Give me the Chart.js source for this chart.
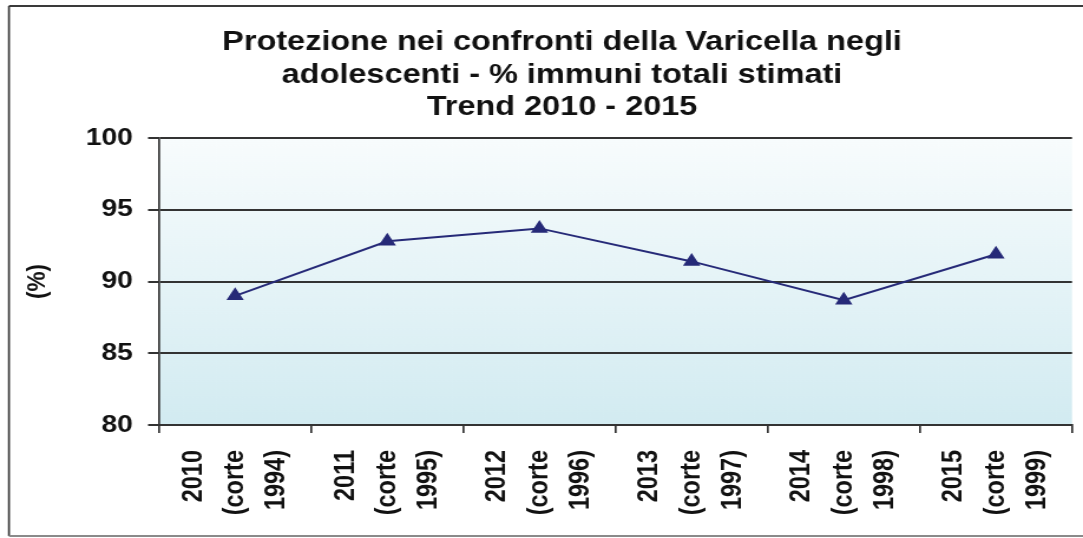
<!DOCTYPE html>
<html>
<head>
<meta charset="utf-8">
<script src="https://cdn.jsdelivr.net/npm/chart.js@4.4.0/dist/chart.umd.min.js"></script>
<style>
  html, body { margin: 0; padding: 0; background: #fff; overflow: hidden; }
</style>
</head>
<body>
<!-- the original picture is a bit wider than its text, so the canvas is stretched sideways -->
<canvas id="chart" width="918" height="538" style="width:1083px;height:538px;display:block"></canvas>
<script>
const years = ["2010", "2011", "2012", "2013", "2014", "2015"];
const cohorts = ["1994", "1995", "1996", "1997", "1998", "1999"];
const immuni = [89.0, 92.8, 93.7, 91.4, 88.7, 91.9];
const yTicks = [80, 85, 90, 95, 100];
const titleLines = [
    "Protezione nei confronti della Varicella negli",
    "adolescenti - % immuni totali stimati",
    "Trend 2010 - 2015"
];
const yTitle = "(%)";

const labels = years.map((y, i) => [y, "(corte", cohorts[i] + ")"]);
const FONT = "'Liberation Sans', Arial, sans-serif";

// sfumatura bianco -> azzurro nell'area del grafico
const bgPlugin = {
    id: "bg",
    beforeDraw(chart) {
        const { ctx, chartArea: a } = chart;
        const g = ctx.createLinearGradient(0, a.top, 0, a.bottom);
        g.addColorStop(0, "#f8fcfd");
        g.addColorStop(1, "#d2ebf1");
        ctx.save();
        ctx.fillStyle = g;
        ctx.fillRect(a.left, a.top, a.right - a.left, a.bottom - a.top);
        ctx.restore();
    }
};

// cornice esterna (il lato destro è fuori dall'immagine)
const framePlugin = {
    id: "frame",
    afterDraw(chart) {
        const ctx = chart.ctx;
        ctx.save();
        ctx.strokeStyle = "#3a3a3a";
        ctx.lineWidth = 2;
        ctx.beginPath();
        ctx.moveTo(7.6, 6);
        ctx.lineTo(chart.width, 6);
        ctx.stroke();
        ctx.lineWidth = 1.7;
        ctx.beginPath();
        ctx.moveTo(7.6, 6);
        ctx.lineTo(7.6, 536);
        ctx.stroke();
        ctx.strokeStyle = "#8a8a8a";
        ctx.lineWidth = 2;
        ctx.beginPath();
        ctx.moveTo(7.6, 536);
        ctx.lineTo(chart.width, 536);
        ctx.stroke();
        ctx.restore();
    }
};

new Chart(document.getElementById("chart"), {
    type: "line",
    data: {
        labels: labels,
        datasets: [{
            data: immuni,
            borderColor: "#262a78",
            backgroundColor: "#262a78",
            borderWidth: 2,
            pointStyle: "triangle",
            pointRadius: 6.5,
            pointHoverRadius: 6.5,
            tension: 0,
            fill: false
        }]
    },
    options: {
        responsive: false,
        animation: false,
        devicePixelRatio: 1,
        layout: { padding: { left: 44.1, right: 9.3, top: 0, bottom: 0 } },
        plugins: {
            legend: { display: false },
            tooltip: { enabled: false },
            title: {
                display: true,
                text: titleLines,
                color: "#111",
                font: { family: FONT, size: 27.5, weight: "bold", lineHeight: 32.5 / 27.5 },
                padding: { top: 26.5, bottom: 14 }
            }
        },
        scales: {
            x: {
                offset: true,
                grid: {
                    offset: true,
                    drawOnChartArea: false,
                    drawTicks: true,
                    tickLength: 8,
                    color: "#333",
                    lineWidth: 1.7
                },
                border: { display: true, color: "#333", width: 2 },
                ticks: {
                    autoSkip: false,
                    minRotation: 90,
                    maxRotation: 90,
                    mirror: true,
                    padding: -25,
                    color: "#111",
                    font: { family: FONT, size: 23.5, weight: "bold", lineHeight: 1.5 }
                },
                afterFit(s) {
                    s.height = 113;
                    s.paddingLeft = 0;
                    s.paddingRight = 0;
                }
            },
            y: {
                min: 80,
                max: 100,
                afterBuildTicks(s) {
                    s.ticks = yTicks.map(v => ({ value: v }));
                },
                grid: { color: "#333", lineWidth: 2, tickLength: 9.3, drawTicks: true },
                border: { display: true, color: "#333", width: 1.7 },
                ticks: {
                    padding: 12.8,
                    color: "#111",
                    font: { family: FONT, size: 24, weight: "bold" }
                },
                title: {
                    display: true,
                    text: yTitle,
                    color: "#111",
                    font: { family: FONT, size: 22.5, weight: "bold", lineHeight: 1.2 },
                    padding: { top: -25.8, bottom: 0 }
                },
                afterFit(s) {
                    s.width = 90.7;
                }
            }
        }
    },
    plugins: [bgPlugin, framePlugin]
});
</script>
</body>
</html>
